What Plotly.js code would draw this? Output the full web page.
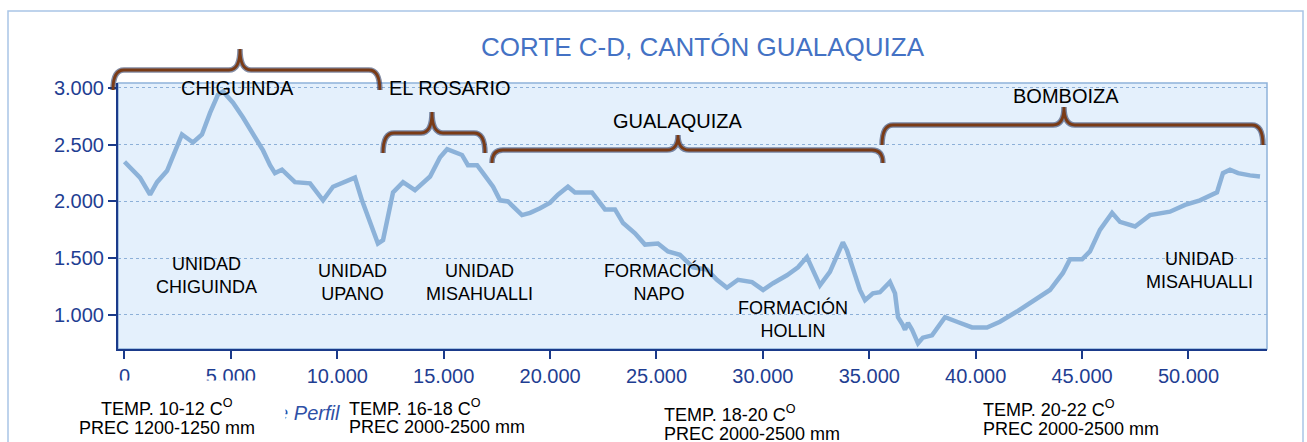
<!DOCTYPE html>
<html>
<head>
<meta charset="utf-8">
<script src="https://cdn.plot.ly/plotly-3.0.1.min.js"></script>
<style>html,body{margin:0;padding:0;background:#fff;}#chart{width:1307px;height:442px;}</style>
</head>
<body>
<div id="chart"></div>
<script>
// ---- data: distance along profile (m) and elevation (m a.s.l.) ----
const dist = [0,730,1200,1530,2000,2370,2700,3220,3640,4020,
  4390,4630,5100,5570,6040,6510,6840,7070,7400,7780,
  8010,8720,9330,9800,10270,10830,11160,11540,11910,12150,
  12620,13090,13650,14360,14830,15160,15860,16140,16570,16850,
  17320,17650,18020,18680,19060,19530,20000,20370,20840,21170,
  21970,22580,23050,23430,23990,24460,25070,25540,26100,26720,
  27370,27840,28310,28830,29490,30010,30480,31130,31650,32070,
  32680,33150,33760,33950,34230,34560,34800,35170,35500,35970,
  36210,36350,36580,36680,36820,37010,37290,37520,37950,38230,
  38560,39120,39830,40530,41140,41940,42880,43490,44100,44430,
  45000,45370,45840,46410,46780,47490,48190,49130,49840,50540,
  51340,51620,51950,52330,52890,53360];
const elev = [2350,2210,2060,2170,2270,2430,2590,2520,2590,2780,
  2940,2970,2870,2740,2600,2450,2320,2250,2280,2210,
  2170,2160,2010,2130,2170,2210,2010,1810,1630,1660,
  2080,2170,2100,2220,2390,2460,2410,2320,2320,2250,
  2130,2010,2000,1880,1900,1940,1990,2060,2130,2080,
  2080,1930,1930,1810,1720,1620,1630,1560,1530,1420,
  1400,1310,1240,1310,1290,1220,1280,1350,1420,1510,
  1260,1380,1640,1570,1400,1220,1130,1190,1200,1290,
  1190,980,910,870,930,870,750,800,820,890,
  980,940,890,890,940,1030,1150,1220,1370,1490,
  1490,1560,1750,1900,1820,1780,1880,1910,1970,2010,
  2080,2250,2280,2250,2230,2220];

const xTicks = [0,5000,10000,15000,20000,25000,30000,35000,40000,45000,50000];
const yTicks = [1000,1500,2000,2500,3000];

// zones (parishes) shown with braces above the profile
const zoneNames = ['CHIGUINDA','EL ROSARIO','GUALAQUIZA','BOMBOIZA'];
const zoneStart = [-540,12150,17270,35600];
const zoneEnd   = [12000,16940,35640,53500];

// geology units inside the plot
const unitNames = ['UNIDAD<br>CHIGUINDA','UNIDAD<br>UPANO','UNIDAD<br>MISAHUALLI','FORMACIÓN<br>NAPO','FORMACIÓN<br>HOLLIN','UNIDAD<br>MISAHUALLI'];
const unitX = [3840,10730,16700,25120,31410,50540];
const unitY = [1350,1290,1290,1290,960,1390];

// climate notes below the axis
const climTemp = ['TEMP. 10-12 C<sup>O</sup>','TEMP. 16-18 C<sup>O</sup>','TEMP. 18-20 C<sup>O</sup>','TEMP. 20-22 C<sup>O</sup>'];
const climPrec = ['PREC 1200-1250 mm','PREC 2000-2500 mm','PREC 2000-2500 mm','PREC 2000-2500 mm'];

// ---- geometry helpers (pixels -> paper) ----
const W = 1307, H = 442, L = 118, R = 1267, T = 83, B = 349;
const XR = [-305, 53690], YR = [700, 3044];
const pX = px => (px - L) / (R - L);
const pY = py => (B - py) / (B - T);
const dX = x => (x - XR[0]) / (XR[1] - XR[0]);
const FONT = 'Liberation Sans, Arial, sans-serif';

// brace vertical layout (pixels): peak, horizontal bar, tail ends, label y
const braceLev = [
  {peak:49, bar:70, end:90, label:88, mid:240},
  {peak:112, bar:133, end:153, label:88, mid:432},
  {peak:135, bar:150, end:163, label:121, mid:678},
  {peak:107, bar:125, end:145, label:96, mid:1064}
];
const braceLabelX = [237, 450, 678, 1066];

function bracePath(x0, x1, xm, lev) {
  const r = 11 / (R - L);
  const yb = pY(lev.end), yh = pY(lev.bar), yp = pY(lev.peak);
  return `M${x0},${yb} Q${x0},${yh} ${x0 + r},${yh} L${xm - r},${yh} Q${xm},${yh} ${xm},${yp} Q${xm},${yh} ${xm + r},${yh} L${x1 - r},${yh} Q${x1},${yh} ${x1},${yb}`;
}

const shapes = [
  // outer chart frame
  {type:'rect', xref:'paper', yref:'paper', x0:pX(8), x1:pX(1303), y0:pY(11), y1:pY(480),
   line:{color:'#A9C5E6', width:1.5}, fillcolor:'rgba(0,0,0,0)', layer:'below'},
  // plot frame (top/right light)
  {type:'rect', xref:'paper', yref:'paper', x0:0, x1:1, y0:0, y1:1,
   line:{color:'#8FB2DA', width:1.5}, fillcolor:'rgba(0,0,0,0)', layer:'below'}
];
zoneNames.forEach((n, i) => {
  const lev = braceLev[i];
  const path = bracePath(dX(zoneStart[i]), dX(zoneEnd[i]), pX(lev.mid), lev);
  shapes.push({type:'path', xref:'paper', yref:'paper', path, layer:'above',
    line:{color:'rgba(30,45,90,0.55)', width:5.5}});
  shapes.push({type:'path', xref:'paper', yref:'paper', path, layer:'above',
    line:{color:'#7A3B16', width:2.8}});
});

const annotations = [];
// title
annotations.push({xref:'paper', yref:'paper', x:pX(703), y:pY(47), text:'CORTE C-D, CANTÓN GUALAQUIZA',
  showarrow:false, xanchor:'center', yanchor:'middle', font:{family:FONT, size:26, color:'#4472C4'}});
// brace labels
zoneNames.forEach((n, i) => annotations.push({xref:'paper', yref:'paper', x:pX(braceLabelX[i]), y:pY(braceLev[i].label),
  text:n, showarrow:false, xanchor:'center', yanchor:'middle', font:{family:FONT, size:20, color:'#000'}}));
// unit labels
unitNames.forEach((n, i) => annotations.push({xref:'x', yref:'y', x:unitX[i], y:unitY[i], text:n,
  showarrow:false, xanchor:'center', yanchor:'middle', align:'center', font:{family:FONT, size:18, color:'#000'}}));
// partially hidden axis title
annotations.push({xref:'paper', yref:'paper', x:pX(342), y:pY(413), text:'de Perfil', showarrow:false,
  xanchor:'right', yanchor:'middle', font:{family:FONT, size:20, color:'#2E50A6', style:'italic'}});
// white cover box (hides lower part of first tick labels and axis title)
annotations.push({xref:'paper', yref:'paper', x:pX(60), y:pY(380), text:' ', showarrow:false,
  xanchor:'left', yanchor:'top', width:224, height:70, bgcolor:'#ffffff', borderpad:0, font:{size:10}});
// climate notes (two lines each)
const climX = [167, 347, 662, 981];
const climY1 = [406, 406, 412, 407];
const climY2 = [428, 427, 434, 429];
const climAnchor = ['center','left','left','left'];
climTemp.forEach((t, i) => {
  annotations.push({xref:'paper', yref:'paper', x:pX(climX[i]), y:pY(climY1[i] + 1), text:t, showarrow:false,
    xanchor:climAnchor[i], yanchor:'middle', font:{family:FONT, size:18, color:'#000'}});
  annotations.push({xref:'paper', yref:'paper', x:pX(climX[i]), y:pY(climY2[i]), text:climPrec[i], showarrow:false,
    xanchor:climAnchor[i], yanchor:'middle', font:{family:FONT, size:18, color:'#000'}});
});

const trace = {x:dist, y:elev, type:'scatter', mode:'lines',
  line:{color:'#8CB2D9', width:4.5}, hoverinfo:'skip'};

const layout = {
  width:W, height:H,
  margin:{l:L, r:W - R, t:T, b:H - B, pad:0},
  paper_bgcolor:'#ffffff', plot_bgcolor:'#E4F0FC',
  separators:',.',
  showlegend:false,
  font:{family:FONT},
  xaxis:{range:XR, tickvals:xTicks, tickformat:',d', showgrid:false, zeroline:false,
    showline:true, linecolor:'#1A3A8A', linewidth:2, ticks:'outside', ticklen:8, tickwidth:2, tickcolor:'#1A3A8A',
    tickfont:{family:FONT, size:20, color:'#1F3E92'}},
  yaxis:{range:YR, tickvals:yTicks, tickformat:',d', showgrid:true, gridcolor:'#8DB0D8', griddash:'dot', gridwidth:1,
    zeroline:false, showline:true, linecolor:'#1A3A8A', linewidth:2, ticks:'outside', ticklen:8, tickwidth:2,
    tickcolor:'#1A3A8A', tickfont:{family:FONT, size:20, color:'#1F3E92'}},
  shapes, annotations
};
Plotly.newPlot('chart', [trace], layout, {displayModeBar:false, staticPlot:true});
</script>
</body>
</html>
